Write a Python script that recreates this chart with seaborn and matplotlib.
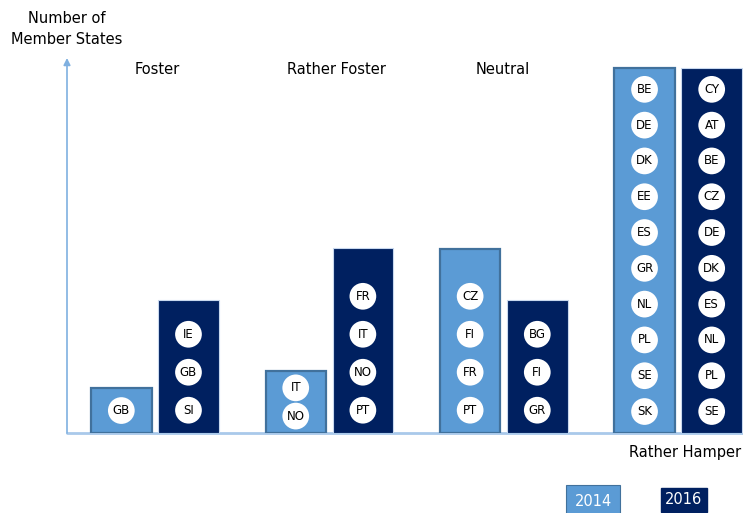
import matplotlib
matplotlib.use("Agg")
import matplotlib.pyplot as plt
import seaborn as sns
import pandas as pd

groups = ["Foster", "Rather Foster", "Neutral", "Rather Hamper"]
years = ["2014", "2016"]
# bar heights (Member States scale)
heights_2014 = [1.23, 1.70, 5.04, 10.0]
heights_2016 = [3.64, 5.07, 3.64, 10.0]
# country labels inside each bar, listed top to bottom
countries_2014 = [
    ["GB"],
    ["IT", "NO"],
    ["CZ", "FI", "FR", "PT"],
    ["BE", "DE", "DK", "EE", "ES", "GR", "NL", "PL", "SE", "SK"],
]
countries_2016 = [
    ["IE", "GB", "SI"],
    ["FR", "IT", "NO", "PT"],
    ["BG", "FI", "GR"],
    ["CY", "AT", "BE", "CZ", "DE", "DK", "ES", "NL", "PL", "SE"],
]

light = "#5b9bd5"
navy = "#002060"
axis_col = "#a9c9ea"

df = pd.DataFrame({
    "group": groups * 2,
    "year": [years[0]] * 4 + [years[1]] * 4,
    "height": heights_2014 + heights_2016,
})

sns.set_style("white")
plt.rcParams["font.family"] = ["DejaVu Sans"]
plt.rcParams["text.color"] = "black"

fig = plt.figure(figsize=(7.43, 5.13), dpi=100)
ax = fig.add_axes([67 / 743, 80 / 513, 676 / 743, 375 / 513])

sns.barplot(data=df, x="group", y="height", hue="year", order=groups,
            hue_order=years, palette=[light, navy], width=0.77, gap=0.1,
            legend=False, ax=ax, saturation=1)

edgecols = ["#41719c", "#c8d8ee"]
lws = [1.6, 0.8]
for ci, cont in enumerate(ax.containers):
    for p in cont:
        p.set_edgecolor(edgecols[ci])
        p.set_linewidth(lws[ci])

ax.set_xlim(-0.504, 3.372)
ax.set_ylim(0, 10.27)
ax.set_xlabel("")
ax.set_ylabel("")
ax.set_xticks([])
ax.set_yticks([])
for s in ax.spines.values():
    s.set_visible(False)

# axes lines
ax.plot([-0.504, 3.372], [0, 0], color=axis_col, lw=2, clip_on=False, zorder=0)
ax.annotate("", xy=(-0.504, 10.27), xytext=(-0.504, 0),
            arrowprops=dict(arrowstyle="-|>", color="#7fb0e0", lw=1.2,
                            mutation_scale=10, shrinkA=0, shrinkB=0),
            annotation_clip=False)

# country circles
all_labels = [countries_2014, countries_2016]
for ci, cont in enumerate(ax.containers):
    for gi, p in enumerate(cont):
        labs = all_labels[ci][gi]
        n = len(labs)
        h = p.get_height()
        step = min(1.04, h / (n + 0.2))
        bottom = min(0.75, step * 0.6)
        xc = p.get_x() + p.get_width() / 2
        for k, lab in enumerate(reversed(labs)):
            yc = bottom + k * step
            ax.scatter([xc], [yc], s=370, color="white", zorder=5,
                       edgecolors="none")
            ax.text(xc, yc, lab, ha="center", va="center", fontsize=8.5,
                    color="black", zorder=6)

# group labels
label_pos = [(157, 70), (336, 70), (503, 70), (685, 453)]
for g, (px, py) in zip(groups, label_pos):
    fig.text(px / 743, 1 - py / 513, g, ha="center", va="center",
             fontsize=10.5, color="black")

fig.text(67 / 743, 1 - 29 / 513, "Number of\nMember States", ha="center",
         va="center", fontsize=10.5, linespacing=1.5, color="black")

# legend boxes
fig.text(593 / 743, 1 - 501 / 513, "2014", ha="center", va="center",
         fontsize=10.5, color="white",
         bbox=dict(boxstyle="square,pad=0.6", facecolor=light,
                   edgecolor="#41719c", lw=0.8))
fig.text(684 / 743, 1 - 500 / 513, "2016", ha="center", va="center",
         fontsize=10.5, color="white",
         bbox=dict(boxstyle="square,pad=0.3", facecolor=navy,
                   edgecolor=navy))

fig.savefig("out.png", dpi=100)
